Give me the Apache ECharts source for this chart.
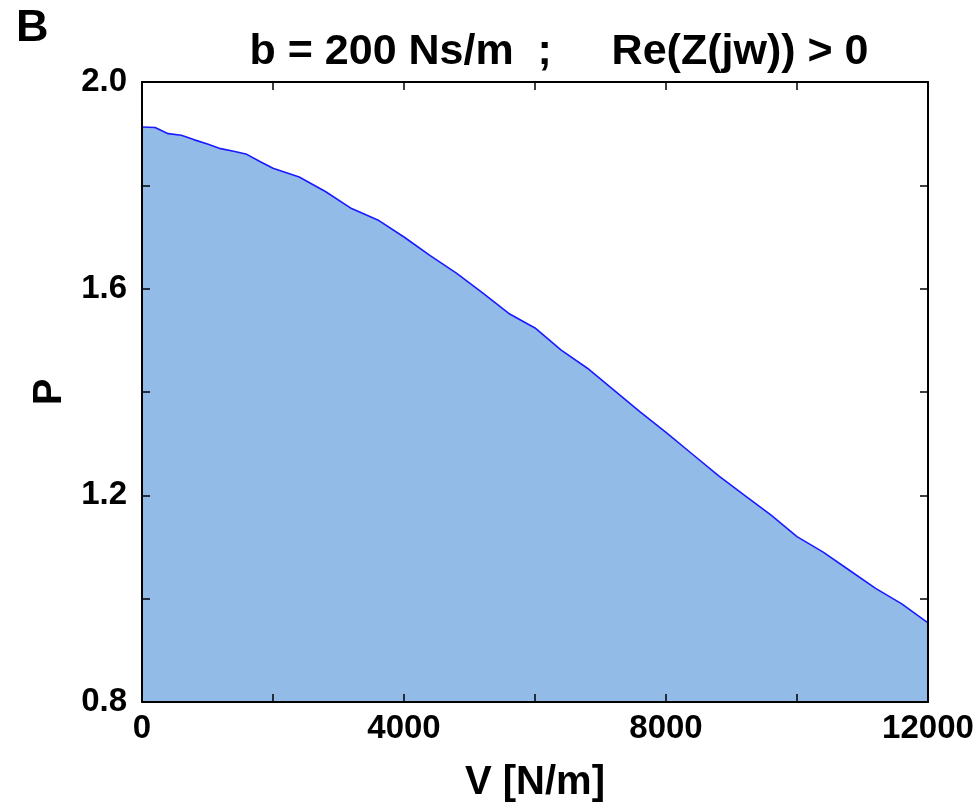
<!DOCTYPE html>
<html>
<head>
<meta charset="utf-8">
<script src="https://cdn.jsdelivr.net/npm/echarts@6/dist/echarts.min.js"></script>
<style>html,body{margin:0;padding:0;background:#fff;}#c{width:979px;height:806px;}</style>
</head>
<body>
<div id="c"></div>
<script>
const vValues = [0, 200, 400, 600, 800, 1000, 1200, 1400, 1600, 1800, 2000, 2400, 2800, 3200, 3600, 4000, 4400, 4800, 5200, 5600, 6000, 6400, 6800, 7200, 7600, 8000, 8400, 8800, 9200, 9600, 10000, 10400, 10800, 11200, 11600, 12000];
const pValues = [1.913, 1.912, 1.900, 1.897, 1.888, 1.880, 1.871, 1.866, 1.860, 1.846, 1.833, 1.816, 1.788, 1.755, 1.733, 1.700, 1.664, 1.630, 1.592, 1.552, 1.524, 1.481, 1.446, 1.404, 1.362, 1.322, 1.280, 1.238, 1.200, 1.162, 1.120, 1.090, 1.055, 1.020, 0.990, 0.953];
const xTickLabels = [0, 4000, 8000, 12000];
const yTickLabels = [0.8, 1.2, 1.6, 2.0];
const titleText = 'b = 200 Ns/m  ;     Re(Z(jw)) > 0';
const panelLabel = 'B';
const xName = 'V [N/m]';
const yName = 'P';

const data = vValues.map((v, i) => [v, pValues[i]]);
const font = 'Liberation Sans, Arial, sans-serif';
const tick = {show: true, inside: true, length: 8, lineStyle: {color: '#000', width: 1.5}};
const line = {show: true, onZero: false, lineStyle: {color: '#000', width: 2}};
const lbl = {color: '#000', fontSize: 33, fontWeight: 'bold', fontFamily: font};

const chart = echarts.init(document.getElementById('c'));
chart.setOption({
  animation: false,
  backgroundColor: '#fff',
  title: {
    text: titleText, left: 554, top: 26, textAlign: 'center',
    textStyle: {color: '#000', fontSize: 43, fontWeight: 'bold', fontFamily: font}
  },
  graphic: [{
    type: 'text', left: 16, top: 6,
    style: {text: panelLabel, fill: '#000', font: 'bold 45px ' + font}
  }],
  grid: {left: 142, top: 82, width: 786, height: 620, show: false, containLabel: false, outerBoundsMode: 'none'},
  xAxis: [{
    type: 'value', min: 0, max: 12000, interval: 2000, position: 'bottom', z: 10,
    axisLine: line, axisTick: tick, splitLine: {show: false},
    axisLabel: Object.assign({margin: 10, formatter: v => xTickLabels.includes(v) ? String(v) : ''}, lbl),
    name: xName, nameLocation: 'middle', nameGap: 61,
    nameTextStyle: {color: '#000', fontSize: 40, fontWeight: 'bold', fontFamily: font}
  }, {
    type: 'value', min: 0, max: 12000, interval: 2000, position: 'top', z: 10,
    axisLine: line, axisTick: tick, splitLine: {show: false}, axisLabel: {show: false}
  }],
  yAxis: [{
    type: 'value', min: 0.8, max: 2.0, interval: 0.2, position: 'left', z: 10,
    axisLine: line, axisTick: tick, splitLine: {show: false},
    axisLabel: Object.assign({margin: 15, formatter: v => yTickLabels.some(t => Math.abs(t - v) < 1e-6) ? v.toFixed(1) : ''}, lbl),
    name: yName, nameLocation: 'middle', nameGap: 72, nameRotate: 90,
    nameTextStyle: {color: '#000', fontSize: 40, fontWeight: 'bold', fontFamily: font}
  }, {
    type: 'value', min: 0.8, max: 2.0, interval: 0.2, position: 'right', z: 10,
    axisLine: line, axisTick: tick, splitLine: {show: false}, axisLabel: {show: false}
  }],
  series: [{
    type: 'line', data: data, showSymbol: false, smooth: false,
    lineStyle: {color: '#1a1aff', width: 1.6},
    areaStyle: {color: '#93bbe8', opacity: 1, origin: 'start'},
    z: 1
  }]
});
</script>
</body>
</html>
